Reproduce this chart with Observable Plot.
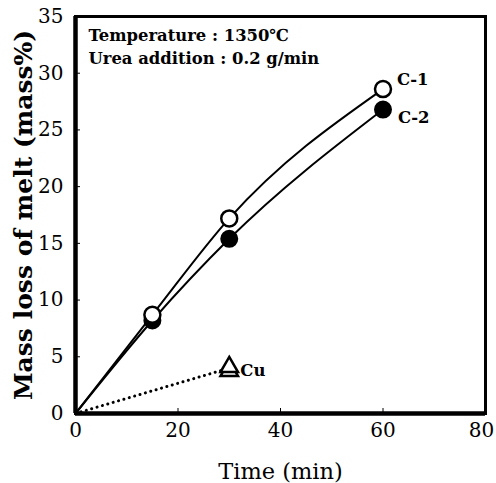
<!DOCTYPE html>
<html>
<head>
<meta charset="utf-8">
<script src="https://cdn.jsdelivr.net/npm/d3@7"></script>
<script src="https://cdn.jsdelivr.net/npm/@observablehq/plot@0.6"></script>
<style>
  html, body { margin: 0; padding: 0; background: #fff; }
  #chart svg { display: block; }
</style>
</head>
<body>
<div id="chart"></div>
<script>
// Data
const timeC = [0, 15, 30, 60];
const c1 = [0, 8.7, 17.2, 28.6];
const c2 = [0, 8.2, 15.4, 26.8];
const timeCu = [0, 30];
const cu = [0, 4.0];
const cuPointTimes = [30, 30];
const cuPointValues = [3.75, 4.1];
const xTicks = [0, 20, 40, 60, 80];
const yTicks = [0, 5, 10, 15, 20, 25, 30, 35];
const noteTemp = "Temperature : 1350\u2103";
const noteUrea = "Urea addition : 0.2 g/min";

const c1Data = timeC.map((t, i) => ({t, v: c1[i]}));
const c2Data = timeC.map((t, i) => ({t, v: c2[i]}));
const cuData = timeCu.map((t, i) => ({t, v: cu[i]}));
const c1Pts = c1Data.slice(1);
const c2Pts = c2Data.slice(1);
const cuPts = cuPointTimes.map((t, i) => ({t, v: cuPointValues[i]}));

const serif = "'DejaVu Serif', 'Liberation Serif', serif";

const chart = Plot.plot({
  width: 496,
  height: 483,
  marginLeft: 75,
  marginRight: 11,
  marginTop: 16,
  marginBottom: 70,
  style: {fontFamily: serif, fontSize: "20px", color: "#000", background: "#fff"},
  x: {domain: [0, 80]},
  y: {domain: [0, 35]},
  marks: [
    Plot.axisX({ticks: xTicks.slice(0, -1), tickSize: -5, tickPadding: 14, fontSize: 20, label: null}),
    Plot.axisX({ticks: xTicks.slice(-1), tickSize: 0, tickPadding: 9, dx: -4, fontSize: 20, label: null}),
    Plot.axisY({ticks: yTicks, tickSize: -5, tickPadding: 17, fontSize: 20, label: null}),
    Plot.frame({stroke: "#000", strokeWidth: 3}),
    Plot.ruleX([0], {stroke: "#000", strokeWidth: 4.5}),
    Plot.ruleY([0], {stroke: "#000", strokeWidth: 4.5}),
    Plot.line(c1Data, {x: "t", y: "v", curve: "monotone-x", stroke: "#000", strokeWidth: 2}),
    Plot.line(c2Data, {x: "t", y: "v", curve: "monotone-x", stroke: "#000", strokeWidth: 2}),
    Plot.line(cuData, {x: "t", y: "v", stroke: "#000", strokeWidth: 3, strokeDasharray: "0.1 5.5", strokeLinecap: "round"}),
    Plot.dot(c2Pts, {x: "t", y: "v", r: 8, fill: "#000", stroke: "#000", strokeWidth: 2}),
    Plot.dot(c1Pts, {x: "t", y: "v", r: 8, fill: "#fff", stroke: "#000", strokeWidth: 2.5}),
    Plot.dot(cuPts, {x: "t", y: "v", symbol: "triangle", r: 6.5, fill: "#fff", stroke: "#000", strokeWidth: 2.5}),
    Plot.text(c1Pts.slice(-1), {x: "t", y: "v", text: () => "C-1", dx: 14, dy: -9, textAnchor: "start", fontSize: 16.5, fontWeight: "bold"}),
    Plot.text(c2Pts.slice(-1), {x: "t", y: "v", text: () => "C-2", dx: 15, dy: 8, textAnchor: "start", fontSize: 16.5, fontWeight: "bold"}),
    Plot.text(cuPts.slice(-1), {x: "t", y: "v", text: () => "Cu", dx: 11, dy: 4, textAnchor: "start", fontSize: 16.5, fontWeight: "bold"}),
    Plot.text([noteTemp], {frameAnchor: "top-left", text: d => d, dx: 13, dy: 13, textAnchor: "start", fontSize: 16.4, fontWeight: "bold"}),
    Plot.text([noteUrea], {frameAnchor: "top-left", text: d => d, dx: 13, dy: 36, textAnchor: "start", fontSize: 16.4, fontWeight: "bold"}),
    Plot.text(["Time (min)"], {frameAnchor: "bottom", text: d => d, dy: 65, fontSize: 22.5}),
    Plot.text(["Mass loss of melt (mass%)"], {frameAnchor: "left", text: d => d, textAnchor: "middle", dx: -52, rotate: -90, fontSize: 25, fontWeight: "bold", style: "letter-spacing:0.5px"})
  ]
});
document.getElementById("chart").appendChild(chart);
</script>
</body>
</html>
